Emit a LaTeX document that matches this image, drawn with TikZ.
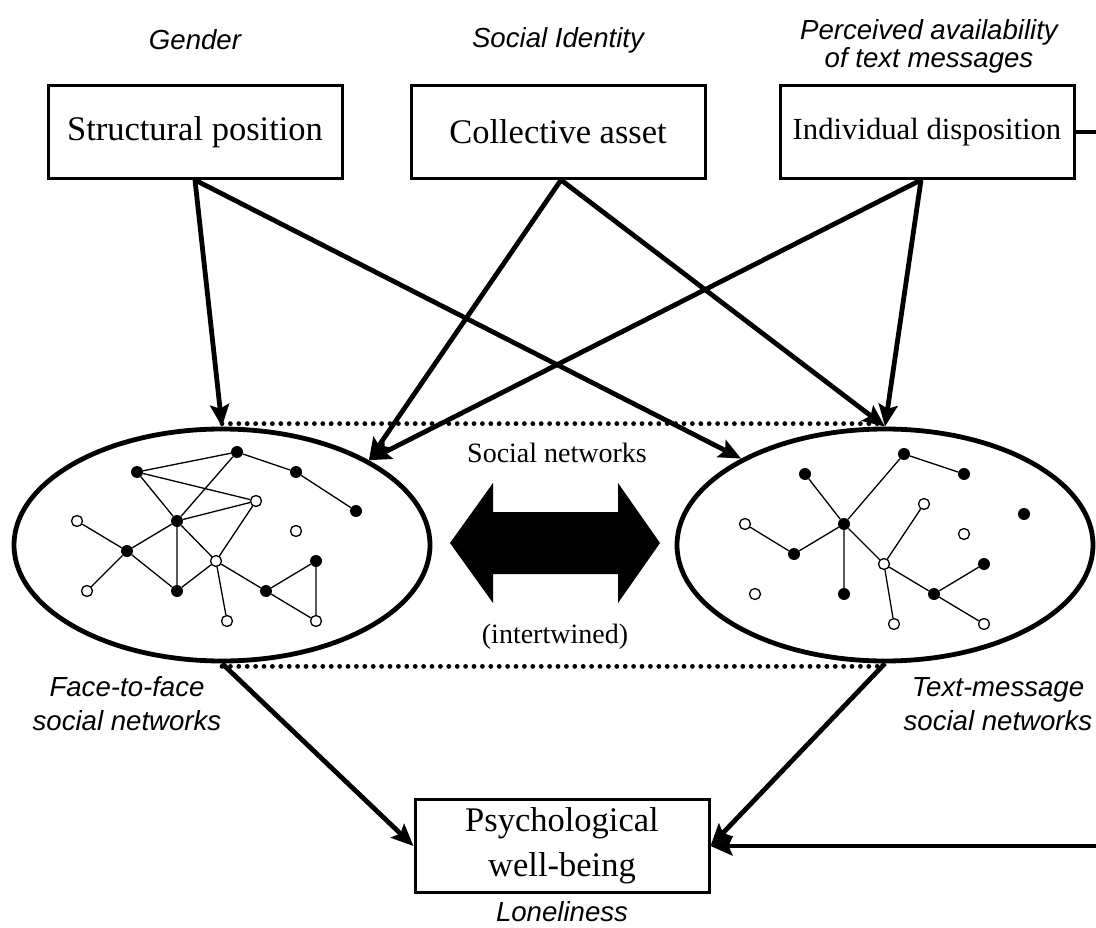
\documentclass[tikz,border=0pt]{standalone}
\usepackage{fontspec}
\setmainfont{Liberation Serif}
\setsansfont{Liberation Sans}
\usetikzlibrary{shapes.geometric,arrows.meta}
\begin{document}
\begin{tikzpicture}[x=1pt,y=-1pt,
  box/.style={draw,line width=3pt,minimum width=294pt,minimum height=93pt,inner sep=0pt,align=center,font=\fontsize{34.5}{45}\selectfont},
  lab/.style={font=\sffamily\itshape\fontsize{27.6}{34}\selectfont,align=center,inner sep=0pt},
  mid/.style={font=\fontsize{28}{33}\selectfont,inner sep=0pt},
  net/.style={ellipse,draw,line width=4.8pt,minimum width=416pt,minimum height=232pt,inner sep=0pt},
  arr/.style={line width=4.8pt,-{Stealth[length=22pt,width=19pt,inset=4pt]}},
  fd/.style={circle,fill=black,minimum size=12pt,inner sep=0pt},
  od/.style={circle,draw=black,fill=white,line width=1.3pt,minimum size=11pt,inner sep=0pt},
  link/.style={line width=1.3pt},
  dotline/.style={line width=4.8pt,line cap=round,dash pattern=on 0pt off 8.4pt}
]
\useasboundingbox (0,0) rectangle (1096,928);
\clip (0,0) rectangle (1096,928);

% top boxes and labels
\node[box] (SP) at (195,132) {Structural position};
\node[box] (CA) at (558,132) {Collective asset};
\node[box,font=\fontsize{30.7}{36}\selectfont] (ID) at (927,132) {Individual disposition};
\node[lab] (gender) at (195,40) {Gender};
\node[lab] (sid) at (558,40) {Social Identity};
\node[lab,font=\sffamily\itshape\fontsize{27.6}{28}\selectfont] (pav) at (929,46) {Perceived availability\\of text messages};

% ellipses
\node[net] (L) at (222,545) {};
\node[net] (R) at (885,545) {};
\draw[dotline] ([yshift=3pt]L.north) -- ([yshift=3pt]R.north);
\draw[dotline] ([yshift=-3pt]L.south) -- ([yshift=-3pt]R.south);

% bottom box
\node[box] (WB) at (562,846) {Psychological\\well-being};
\node[lab] (lone) at (562,912) {Loneliness};
\node[lab] (f2f) at (127,704) {Face-to-face\\social networks};
\node[lab] (tm) at (998,704) {Text-message\\social networks};
\node[mid] (sn) at (557,453) {Social networks};
\node[mid] (intw) at (555,637) {(intertwined)};

% double arrow
\fill (450,543) -- (493,483) -- (493,512) -- (618,512) -- (618,483) -- (660,543)
  -- (618,603) -- (618,574) -- (493,574) -- (493,603) -- cycle;

% left network
\node[fd] (La) at (137,472) {};
\node[fd] (Lb) at (237,452) {};
\node[fd] (Lc) at (296,472) {};
\node[fd] (Ld) at (356,511) {};
\node[fd] (Le) at (177,521) {};
\node[fd] (Lf) at (127,551) {};
\node[fd] (Lg) at (177,591) {};
\node[fd] (Lh) at (266,591) {};
\node[fd] (Li) at (316,561) {};
\node[od] (Lj) at (256,501) {};
\node[od] (Lk) at (77,521) {};
\node[od] (Ll) at (296,531) {};
\node[od] (Lm) at (216,561) {};
\node[od] (Ln) at (87,591) {};
\node[od] (Lo) at (227,621) {};
\node[od] (Lp) at (316,621) {};
\draw[link] (La) -- (Lb) (La) -- (Lj) (La) -- (Le) (Lb) -- (Le) (Lb) -- (Lc) (Lc) -- (Ld)
  (Le) -- (Lj) (Le) -- (Lf) (Le) -- (Lm) (Le) -- (Lg) (Lj) -- (Lm) (Lk) -- (Lf)
  (Lf) -- (Ln) (Lf) -- (Lg) (Lg) -- (Lm) (Lm) -- (Lo) (Lm) -- (Lh) (Lh) -- (Li)
  (Lh) -- (Lp) (Li) -- (Lp);

% right network
\node[fd] (Ra) at (805,474) {};
\node[fd] (Rb) at (904,454) {};
\node[fd] (Rc) at (964,474) {};
\node[fd] (Rd) at (1024,514) {};
\node[fd] (Re) at (844,524) {};
\node[fd] (Rf) at (794,554) {};
\node[fd] (Rg) at (844,594) {};
\node[fd] (Rh) at (934,594) {};
\node[fd] (Ri) at (984,564) {};
\node[od] (Rj) at (924,504) {};
\node[od] (Rk) at (745,524) {};
\node[od] (Rl) at (964,534) {};
\node[od] (Rm) at (884,564) {};
\node[od] (Rn) at (755,594) {};
\node[od] (Ro) at (894,624) {};
\node[od] (Rp) at (984,624) {};
\draw[link] (Ra) -- (Re) (Rb) -- (Re) (Rb) -- (Rc) (Re) -- (Rf) (Rf) -- (Rk)
  (Re) -- (Rg) (Re) -- (Rm) (Rm) -- (Rj) (Rm) -- (Ro) (Rm) -- (Rh) (Rh) -- (Ri)
  (Rh) -- (Rp);

% arrows
\draw[arr] (SP.south) -- (L.north);
\draw[arr] (SP.south) -- (R.149);
\draw[arr] ([xshift=3pt]CA.south) -- (L.30);
\draw[arr] ([xshift=3pt]CA.south) -- (R.north);
\draw[arr] ([xshift=-6pt]ID.south) -- (L.30);
\draw[arr] ([xshift=-6pt]ID.south) -- (R.north);
\draw[arr] (L.south) -- (WB.west);
\draw[arr] (R.south) -- (WB.east);
\draw[arr] (ID.east) -- ++(60,0) |- (WB.east);
\end{tikzpicture}
\end{document}
